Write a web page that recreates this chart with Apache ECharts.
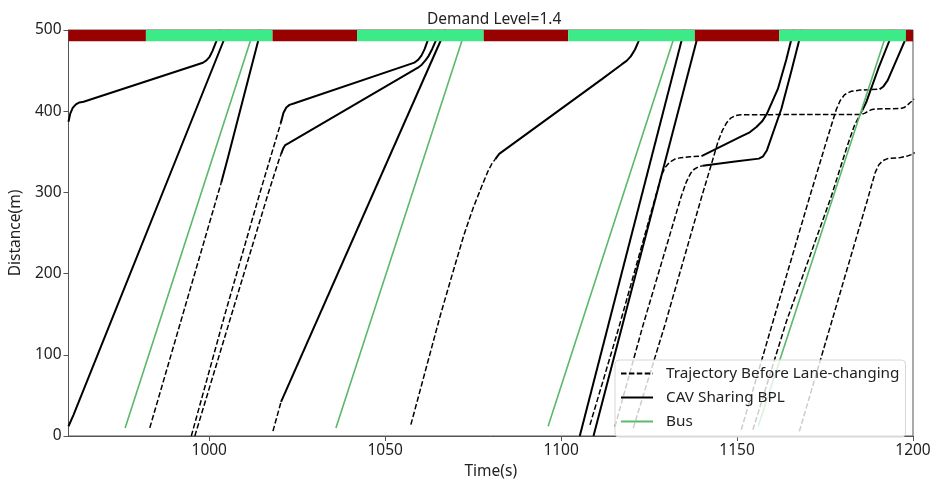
<!DOCTYPE html>
<html>
<head>
<meta charset="utf-8">
<script src="https://cdn.jsdelivr.net/npm/echarts@6/dist/echarts.min.js"></script>
<style>
  html, body { margin: 0; padding: 0; background: #fff; }
  #chart { width: 934px; height: 485px; }
</style>
</head>
<body>
<div id="chart"></div>
<script>
// Signal timing along the top of the plot: boundaries (s) and the phase of each interval
const phaseBounds = [960, 982, 1018, 1042, 1078, 1102, 1138, 1162, 1198, 1200];
const phaseKinds  = ['red', 'green', 'red', 'green', 'red', 'green', 'red', 'green', 'red'];

// Axis tick values
const xTicks = [1000, 1050, 1100, 1150, 1200];
const yTicks = [0, 100, 200, 300, 400, 500];

// Bus trajectories [time, distance]
const bus1 = [[976.1, 10], [1012.7, 500]];
const bus2 = [[1036.0, 10], [1072.8, 500]];
const bus3 = [[1096.3, 12], [1132.8, 500]];
const bus4 = [[1156.0, 12], [1192.8, 500]];

// Trajectories before lane-changing (dashed)
const pre3  = [[983.1, 10], [1003.4, 312]];
const pre4  = [[994.9, 0], [1004.4, 149], [1014.3, 298], [1019.6, 375], [1020.3, 385]];
const pre5  = [[995.9, 0], [1006.3, 149], [1016.7, 298], [1019.8, 340], [1020.4, 347]];
const pre6  = [[1018.1, 6], [1020.4, 42]];
const pre7  = [[1057.3, 14], [1065.7, 149], [1069.6, 207], [1072.4, 248], [1075.1, 282], [1077.3, 306], [1079.2, 326],
               [1080.4, 336], [1081.3, 341]];
const pre8  = [[1108.2, 13.7], [1116.3, 132], [1128.6, 322], [1129.6, 331], [1130.8, 337], [1132.2, 340.8], [1134, 342.8],
               [1136.5, 343.8], [1139.9, 344.7]];
const pre9  = [[1115.3, 11.7], [1123.3, 136.8], [1134.2, 296], [1135.6, 313], [1136.8, 323.5], [1137.8, 328.5], [1139, 331.5],
               [1140.2, 332.8]];
const pre10 = [[1120.5, 9.7], [1129.5, 136.8], [1139.9, 294], [1142.7, 334.5], [1144.6, 362.8], [1145.8, 376], [1147, 385.5],
               [1148.2, 391.5], [1149.5, 394.6], [1151, 395.7], [1185.2, 396], [1186.2, 397.3], [1187.1, 399.5], [1188.1, 401.7],
               [1189.3, 402.8], [1196.5, 403.3], [1197.5, 404.5], [1198.4, 407.5], [1199.3, 411], [1200.3, 415]];
const pre11 = [[1151.2, 7.7], [1160.2, 140.8], [1170.6, 294], [1175.2, 360], [1176.9, 384], [1178.2, 402], [1179.3, 413],
               [1180.6, 420.5], [1182.4, 424.5], [1185, 426], [1190.5, 427]];
const pre12 = [[1154.5, 7.7], [1164, 140.8], [1176.7, 294], [1181.3, 357], [1183.4, 383], [1185.6, 401]];
const pre13 = [[1167.7, 5.7], [1176.7, 138], [1187, 290], [1188.3, 310], [1189.3, 325], [1190.3, 334], [1191.4, 339],
               [1192.8, 341.6], [1196.5, 343], [1198.4, 344.7], [1199.5, 346.5], [1200.5, 349]];

// CAV trajectories while sharing the bus priority lane (solid)
const cav1  = [[960, 12], [961.4, 25.8], [1005.3, 500]];
const cav2  = [[960, 387], [960.5, 397], [961.2, 404], [962.1, 408.5], [963.1, 410.8], [964.3, 411.6], [998.2, 459.7],
               [999.2, 462.5], [1000.1, 467], [1000.9, 474], [1002, 486], [1003.1, 500]];
const cav3  = [[1003.4, 312], [1005.3, 342.6], [1014.7, 500]];
const cav4  = [[1020.3, 385], [1021.1, 398], [1021.9, 404.5], [1022.8, 407.8], [1024, 409.4], [1058.3, 459.8], [1059.3, 463],
               [1060.3, 468.5], [1061.2, 476.5], [1062, 486], [1063.2, 500]];
const cav5  = [[1020.4, 347], [1021, 354], [1021.6, 358.3], [1022.6, 360.8], [1059.3, 453.6], [1060.4, 457.3], [1061.5, 462.8],
               [1062.4, 468.5], [1063.4, 477], [1064.3, 486], [1065.3, 500]];
const cav6  = [[1020.4, 42], [1067.1, 500]];
const cav7  = [[1081.3, 341], [1082.4, 347.5], [1111.6, 439.5], [1117.2, 457.6], [1118.6, 462], [1119.8, 467.5],
               [1121, 476], [1122, 486], [1123.2, 500]];
const cavA  = [[1105.3, 0], [1135, 500]];
const cavB  = [[1109.2, 0], [1139.3, 500]];
const cav8  = [[1139.9, 344.7], [1151.2, 368.9], [1153.6, 374], [1155.5, 380.5], [1157.2, 388], [1158.5, 397],
               [1161.6, 427.4], [1164, 463.7], [1165.4, 487.9], [1166.1, 500]];
const cav9  = [[1140.2, 332.8], [1150, 338.5], [1156.2, 341.6], [1157.4, 344.5], [1158.5, 352], [1162.6, 403],
               [1165.4, 449], [1168.4, 500]];
const cav11 = [[1190.5, 427], [1191.6, 430.5], [1192.8, 438], [1195.2, 462], [1199, 500]];
const cav12 = [[1185.6, 401], [1186.8, 412], [1190.1, 452], [1194.5, 500]];

const NAME_PRE = 'Trajectory Before Lane-changing';
const NAME_CAV = 'CAV Sharing BPL';
const NAME_BUS = 'Bus';

const busTracks = [bus1, bus2, bus3, bus4];
const preTracks = [pre3, pre4, pre5, pre6, pre7, pre8, pre9, pre10, pre11, pre12, pre13];
const cavTracks = [cav1, cav2, cav3, cav4, cav5, cav6, cav7, cavA, cavB, cav8, cav9, cav11, cav12];

const FONT = 'Noto Sans';
const BLACK = '#000000';
const GREEN = '#5ab86a';
const phaseColor = { red: '#990000', green: '#3dea88' };

function lineSeries(name, data, style, z) {
  return {
    name: name,
    type: 'line',
    data: data,
    showSymbol: false,
    symbol: 'none',
    smooth: false,
    clip: true,
    z: z,
    itemStyle: { color: style.color },
    lineStyle: style,
    emphasis: { disabled: true },
    silent: true
  };
}

const series = [];
preTracks.forEach(t => series.push(lineSeries(NAME_PRE, t, { color: BLACK, width: 1.5, type: [5.5, 2.4] }, 2)));
cavTracks.forEach(t => series.push(lineSeries(NAME_CAV, t, { color: BLACK, width: 2 }, 3)));
busTracks.forEach(t => series.push(lineSeries(NAME_BUS, t, { color: GREEN, width: 1.6 }, 3)));

// Signal phase band across the top of the plot
const phaseData = phaseKinds.map((k, i) => [phaseBounds[i], phaseBounds[i + 1], i]);
series.push({
  type: 'custom',
  silent: true,
  z: 10,
  clip: true,
  data: phaseData,
  encode: { x: [0, 1] },
  renderItem: function (params, api) {
    const p0 = api.coord([api.value(0), 500]);
    const p1 = api.coord([api.value(1), 486]);
    const kind = phaseKinds[api.value(2)];
    return {
      type: 'rect',
      shape: { x: p0[0], y: p0[1], width: p1[0] - p0[0], height: p1[1] - p0[1] },
      style: { fill: phaseColor[kind], stroke: null }
    };
  }
});

const plain = v => String(v);

const chart = echarts.init(document.getElementById('chart'), null, { renderer: 'canvas' });
chart.setOption({
  animation: false,
  backgroundColor: '#fff',
  textStyle: { fontFamily: FONT },
  title: {
    text: 'Demand Level=1.4',
    left: 422,
    top: 7,
    textStyle: { fontFamily: FONT, fontSize: 15.5, fontWeight: 'normal', color: '#222' }
  },
  grid: {
    left: 65, right: 21, top: 30, bottom: 42,
    show: true, borderColor: '#555', borderWidth: 1, backgroundColor: 'transparent'
  },
  legend: {
    data: [
      { name: NAME_PRE },
      { name: NAME_CAV },
      { name: NAME_BUS }
    ],
    orient: 'vertical',
    left: 615,
    top: 360,
    itemWidth: 32,
    itemHeight: 12,
    itemGap: 9,
    padding: [6, 6, 8, 5],
    itemStyle: { opacity: 0 },
    backgroundColor: 'rgba(255,255,255,0.8)',
    borderColor: '#d6d6d6',
    borderWidth: 1,
    borderRadius: 4,
    textStyle: { fontFamily: FONT, fontSize: 15.3, color: '#222', padding: [0, 0, 0, 8] },
    selectedMode: false
  },
  xAxis: {
    type: 'value',
    min: 960,
    max: 1200,
    name: 'Time(s)',
    nameLocation: 'middle',
    nameGap: 28,
    nameTextStyle: { fontFamily: FONT, fontSize: 15.5, color: '#222' },
    axisLine: { show: true, lineStyle: { color: '#555', width: 1 } },
    axisTick: { show: true, length: 5, lineStyle: { color: '#555' }, customValues: xTicks },
    axisLabel: { fontFamily: FONT, fontSize: 15.5, color: '#222', margin: 7, customValues: xTicks, formatter: plain },
    splitLine: { show: false }
  },
  yAxis: {
    type: 'value',
    min: 0,
    max: 500,
    interval: 100,
    name: 'Distance(m)',
    nameLocation: 'middle',
    nameGap: 38,
    nameTextStyle: { fontFamily: FONT, fontSize: 15.5, color: '#222' },
    axisLine: { show: true, lineStyle: { color: '#555', width: 1 } },
    axisTick: { show: true, length: 5, lineStyle: { color: '#555' }, customValues: yTicks },
    axisLabel: { fontFamily: FONT, fontSize: 15.5, color: '#222', margin: 7, customValues: yTicks, formatter: plain },
    splitLine: { show: false }
  },
  series: series
});
</script>
</body>
</html>
